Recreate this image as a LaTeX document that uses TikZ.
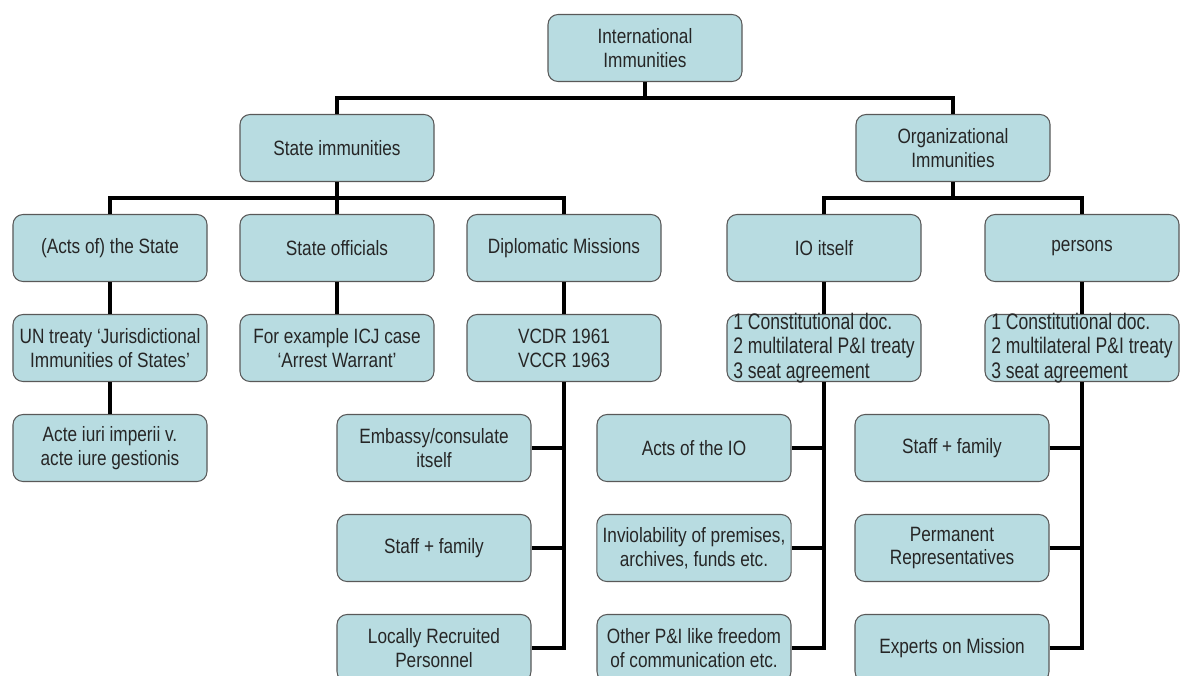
\documentclass[tikz,border=0pt]{standalone}
\usepackage{fontspec}
\setmainfont{Liberation Sans}[FakeStretch=0.83]
\newfontfamily\docfont{Liberation Sans}[FakeStretch=0.78]
\definecolor{boxblue}{RGB}{184,220,225}

\begin{document}
\begin{tikzpicture}[node distance={20mm}, line width=2pt,
    main/.style = {draw=black!65, line width=0.6pt, fill=boxblue, rounded corners=2mm, minimum width=38.8mm, minimum height=13.4mm, align=center, text=black!85, font=\fontsize{11.8}{13.6}\selectfont},
    doc/.style = {main, align=left, inner ysep=-2.3pt, font=\docfont\fontsize{12.8}{13.9}\selectfont}]
    \useasboundingbox (0,0) rectangle (23.62,-13.5);
    \node[main] (1) at (12.9,-0.96) {International\\Immunities};
    \node[main] (2) [below of=1, xshift=-6.16cm] {State immunities};
    \node[main] (3) [below of=1, xshift=6.16cm] {Organizational\\Immunities};
    \node[main] (4) [below of=2, xshift=-4.54cm] {(Acts of) the State};
    \node[main] (5) [below of=2] {State officials};
    \node[main] (6) [below of=2, xshift=4.54cm] {Diplomatic Missions};
    \node[main] (7) [below of=3, xshift=-2.58cm] {IO itself};
    \node[main] (8) [below of=3, xshift=2.58cm] {persons};
    \node[main] (9) [below of=4] {UN treaty `Jurisdictional\\Immunities of States'};
    \node[main] (10) [below of=5] {For example ICJ case\\`Arrest Warrant'};
    \node[main] (11) [below of=6] {VCDR 1961\\VCCR 1963};
    \node[doc] (12) [below of=7] {1 Constitutional doc.\\2 multilateral P\&I treaty\\3 seat agreement};
    \node[doc] (13) [below of=8] {1 Constitutional doc.\\2 multilateral P\&I treaty\\3 seat agreement};
    \node[main] (14) [below of=9] {Acte iuri imperii v.\\acte iure gestionis};
    \node[main] (15) [below of=11, xshift=-2.6cm] {Embassy/consulate\\itself};
    \node[main] (16) [below of=15] {Staff + family};
    \node[main] (17) [below of=16] {Locally Recruited\\Personnel};
    \node[main] (18) [below of=12, xshift=-2.6cm] {Acts of the IO};
    \node[main] (19) [below of=18] {Inviolability of premises,\\archives, funds etc.};
    \node[main] (20) [below of=19] {Other P\&I like freedom\\of communication etc.};
    \node[main] (21) [below of=13, xshift=-2.6cm] {Staff + family};
    \node[main] (22) [below of=21] {Permanent\\Representatives};
    \node[main] (23) [below of=22] {Experts on Mission};
    % top levels
    \draw (1.south) -- ++(0,-0.32) -| (2.north);
    \draw (1.south) -- ++(0,-0.32) -| (3.north);
    \draw (2.south) -- ++(0,-0.32) -| (4.north);
    \draw (2.south) -- (5.north);
    \draw (2.south) -- ++(0,-0.32) -| (6.north);
    \draw (3.south) -- ++(0,-0.32) -| (7.north);
    \draw (3.south) -- ++(0,-0.32) -| (8.north);
    \draw (4) -- (9);
    \draw (5) -- (10);
    \draw (6) -- (11);
    \draw (7) -- (12);
    \draw (8) -- (13);
    \draw (9) -- (14);
    % side branches
    \draw (15.east) -| (11.south);
    \draw (16.east) -| (11.south);
    \draw (17.east) -| (11.south);
    \draw (18.east) -| (12.south);
    \draw (19.east) -| (12.south);
    \draw (20.east) -| (12.south);
    \draw (21.east) -| (13.south);
    \draw (22.east) -| (13.south);
    \draw (23.east) -| (13.south);
\end{tikzpicture}
\end{document}
